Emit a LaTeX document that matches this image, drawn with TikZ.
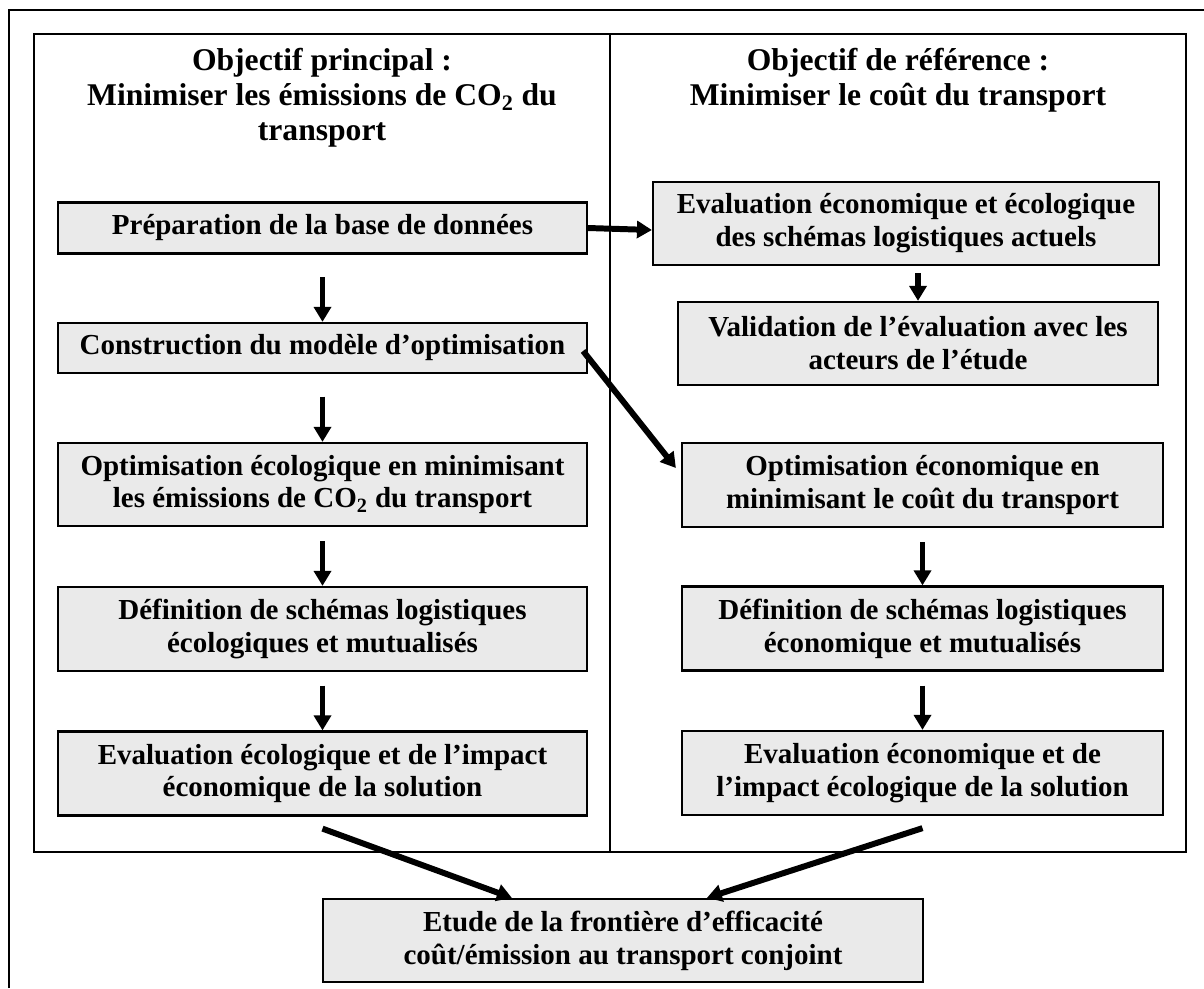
\documentclass[tikz,border=0pt]{standalone}
\usepackage{fontspec}
\setmainfont{Liberation Serif}
\usepackage{tikz}
\usetikzlibrary{arrows.meta}
\usetikzlibrary{calc}
\definecolor{boxgray}{RGB}{234,234,234}

\begin{document}
\begin{tikzpicture}[x=0.02cm,y=-0.02cm,
    stepbox/.style={draw,line width=1.3pt,fill=boxgray,inner sep=0pt,align=center,
      font=\bfseries\fontsize{16.5}{18.7}\selectfont},
    headline/.style={align=center,inner sep=0pt,font=\bfseries\fontsize{18}{20}\selectfont},
    flow/.style={line width=3.4pt,-{Triangle[length=8.5pt,width=9.6pt]}},
    frame/.style={line width=1.3pt}]

      \useasboundingbox (0,0) rectangle (1204,988);

      % frames
      \draw [line width=1.1pt] (9,988) -- (9,10) -- (1204,10);
      \draw [frame] (34,34) rectangle (1186,852);
      \draw [frame] (610,34) -- (610,852);

      \node [headline] (titleL) at (322,98) {Objectif principal :\\Minimiser les émissions de CO\textsubscript{2} du\\transport};
      \node [headline] (titleR) at (898,80.5) {Objectif de référence :\\Minimiser le coût du transport};

      % left column
      \node [stepbox,minimum width=10.58cm,minimum height=1.02cm] (prep) at (322.5,228) {Préparation de la base de données};
      \node [stepbox,minimum width=10.58cm,minimum height=1.0cm] (model) at (322.5,348) {Construction du modèle d’optimisation};
      \node [stepbox,minimum width=10.58cm,minimum height=1.66cm] (optEco) at (322.5,484.5) {Optimisation écologique en minimisant\\les émissions de CO\textsubscript{2} du transport};
      \node [stepbox,minimum width=10.58cm,minimum height=1.68cm] (defEco) at (322.5,629) {Définition de schémas logistiques\\écologiques et mutualisés};
      \node [stepbox,minimum width=10.58cm,minimum height=1.68cm] (evalEco) at (322.5,773.5) {Evaluation écologique et de l’impact\\économique de la solution};

      % right column
      \node [stepbox,minimum width=10.12cm,minimum height=1.66cm] (actual) at (906,223.5) {Evaluation économique et écologique\\des schémas logistiques actuels};
      \node [stepbox,minimum width=9.6cm,minimum height=1.66cm] (valid) at (918,343.5) {Validation de l’évaluation avec les\\acteurs de l’étude};
      \node [stepbox,minimum width=9.62cm,minimum height=1.68cm] (optCost) at (922.5,485) {Optimisation économique en\\minimisant le coût du transport};
      \node [stepbox,minimum width=9.62cm,minimum height=1.68cm] (defCost) at (922.5,628.5) {Définition de schémas logistiques\\économique et mutualisés};
      \node [stepbox,minimum width=9.62cm,minimum height=1.68cm] (evalCost) at (922.5,773) {Evaluation économique et de\\l’impact écologique de la solution};

      \node [stepbox,minimum width=12cm,minimum height=1.66cm] (front) at (623,940.5) {Etude de la frontière d’efficacité\\coût/émission au transport conjoint};

      % arrows
      \draw [flow,shorten <=0.45cm] (prep) -- (model);
      \draw [flow,shorten <=0.45cm] (model) -- (optEco);
      \draw [flow,shorten <=0.28cm] (optEco) -- (defEco);
      \draw [flow,shorten <=0.27cm] (defEco) -- (evalEco);

      \draw [flow,shorten <=0.14cm] (valid.north |- actual.south) -- (valid.north);
      \draw [flow,shorten <=0.28cm] (optCost) -- (defCost);
      \draw [flow,shorten <=0.28cm] (defCost) -- (evalCost);

      \draw [flow] (prep.east) -- ($(actual.west)+(0,6.5)$);
      \draw [flow] ($(model.east)+(-5,3)$) -- ($(optCost.west)+(-5,-17)$);

      \draw [flow] ($(evalEco.south)+(0,12)$) -- ($(front.north west)+(190,0)$);
      \draw [flow] ($(evalCost.south)+(0,12)$) -- ($(front.north west)+(385,0)$);

\end{tikzpicture}
\end{document}
